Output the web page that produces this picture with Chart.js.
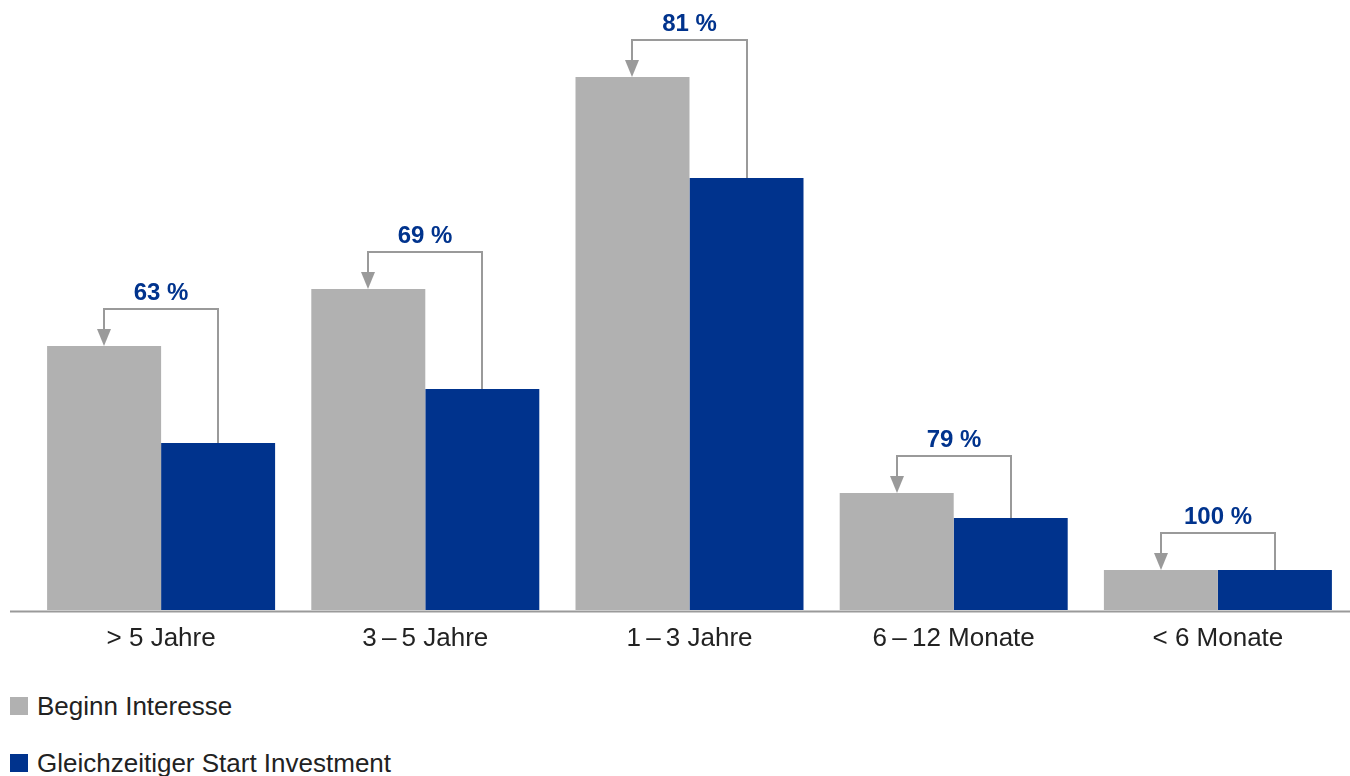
<!DOCTYPE html>
<html lang="de">
<head>
<meta charset="utf-8">
<script src="https://cdn.jsdelivr.net/npm/chart.js@4/dist/chart.umd.min.js"></script>
<style>
  body { margin: 0; background: #fff; }
  #wrap { position: relative; width: 1350px; height: 776px; overflow: hidden; }
  #box { position: absolute; left: 0; top: 0; width: 1350px; height: 670px; }
  .leg { position: absolute; left: 10px; font-family: "Liberation Sans", Arial, sans-serif; font-size: 26px; color: #222; line-height: 18px; white-space: nowrap; }
  .leg span { display: inline-block; width: 18px; height: 18px; vertical-align: top; margin-right: 9px; }
</style>
</head>
<body>
<div id="wrap">
  <div id="box"><canvas id="grafico"></canvas></div>
  <div class="leg" style="top:697px"><span style="background:#b1b1b1"></span>Beginn Interesse</div>
  <div class="leg" style="top:754px"><span style="background:#00338d"></span>Gleichzeitiger Start Investment</div>
</div>
<script>
// Kategorien und Werte (relative Einheiten)
const kategorien = ['> 5 Jahre', '3\u2009\u2013\u20095 Jahre', '1\u2009\u2013\u20093 Jahre', '6\u2009\u2013\u200912 Monate', '< 6 Monate'];
const beginnInteresse = [26.4, 32.1, 53.3, 11.7, 4.0];
const startInvestment = [16.7, 22.1, 43.2, 9.2, 4.0];
const quoten = ['63 %', '69 %', '81 %', '79 %', '100 %'];

const grau = '#b1b1b1';
const blau = '#00338d';

// Verbindungslinien mit Pfeil und Prozentwert
const pfeilPlugin = {
    id: 'pfeile',
    afterDatasetsDraw(chart) {
        const ctx = chart.ctx;
        const a = chart.chartArea;
        const g = chart.getDatasetMeta(0).data;
        const b = chart.getDatasetMeta(1).data;

        ctx.save();
        // Grundlinie
        ctx.strokeStyle = '#9a9a9a';
        ctx.lineWidth = 2;
        ctx.beginPath();
        ctx.moveTo(10, a.bottom + 1.5);
        ctx.lineTo(1350, a.bottom + 1.5);
        ctx.stroke();

        g.forEach((bar, i) => {
            const gx = Math.round(bar.x), gy = bar.y;
            const bx = Math.round(b[i].x), by = b[i].y;
            const ly = gy - 37;

            ctx.strokeStyle = '#9a9a9a';
            ctx.lineWidth = 2;
            ctx.beginPath();
            ctx.moveTo(bx, by);
            ctx.lineTo(bx, ly);
            ctx.lineTo(gx, ly);
            ctx.lineTo(gx, gy - 16);
            ctx.stroke();

            ctx.fillStyle = '#9a9a9a';
            ctx.beginPath();
            ctx.moveTo(gx - 7, gy - 17);
            ctx.lineTo(gx + 7, gy - 17);
            ctx.lineTo(gx, gy);
            ctx.closePath();
            ctx.fill();

            ctx.fillStyle = blau;
            ctx.font = 'bold 24px "Liberation Sans", Arial, sans-serif';
            ctx.textAlign = 'center';
            ctx.textBaseline = 'middle';
            ctx.fillText(quoten[i], (gx + bx) / 2, ly - 16);
        });
        ctx.restore();
    }
};

new Chart(document.getElementById('grafico'), {
    type: 'bar',
    data: {
        labels: kategorien,
        datasets: [
            { label: 'Beginn Interesse', data: beginnInteresse, backgroundColor: grau },
            { label: 'Gleichzeitiger Start Investment', data: startInvestment, backgroundColor: blau }
        ]
    },
    options: {
        responsive: true,
        maintainAspectRatio: false,
        animation: false,
        layout: { padding: { left: 29, right: 0, top: 0, bottom: 0 } },
        categoryPercentage: 0.863,
        barPercentage: 1,
        plugins: {
            legend: { display: false },
            tooltip: { enabled: false }
        },
        scales: {
            x: {
                grid: { display: false },
                border: { display: false },
                ticks: {
                    color: '#222',
                    padding: 5,
                    font: { family: '"Liberation Sans", Arial, sans-serif', size: 26 }
                },
                afterFit(scale) { scale.height = 60; }
            },
            y: {
                display: false,
                min: 0,
                max: 61
            }
        }
    },
    plugins: [pfeilPlugin]
});
</script>
</body>
</html>
